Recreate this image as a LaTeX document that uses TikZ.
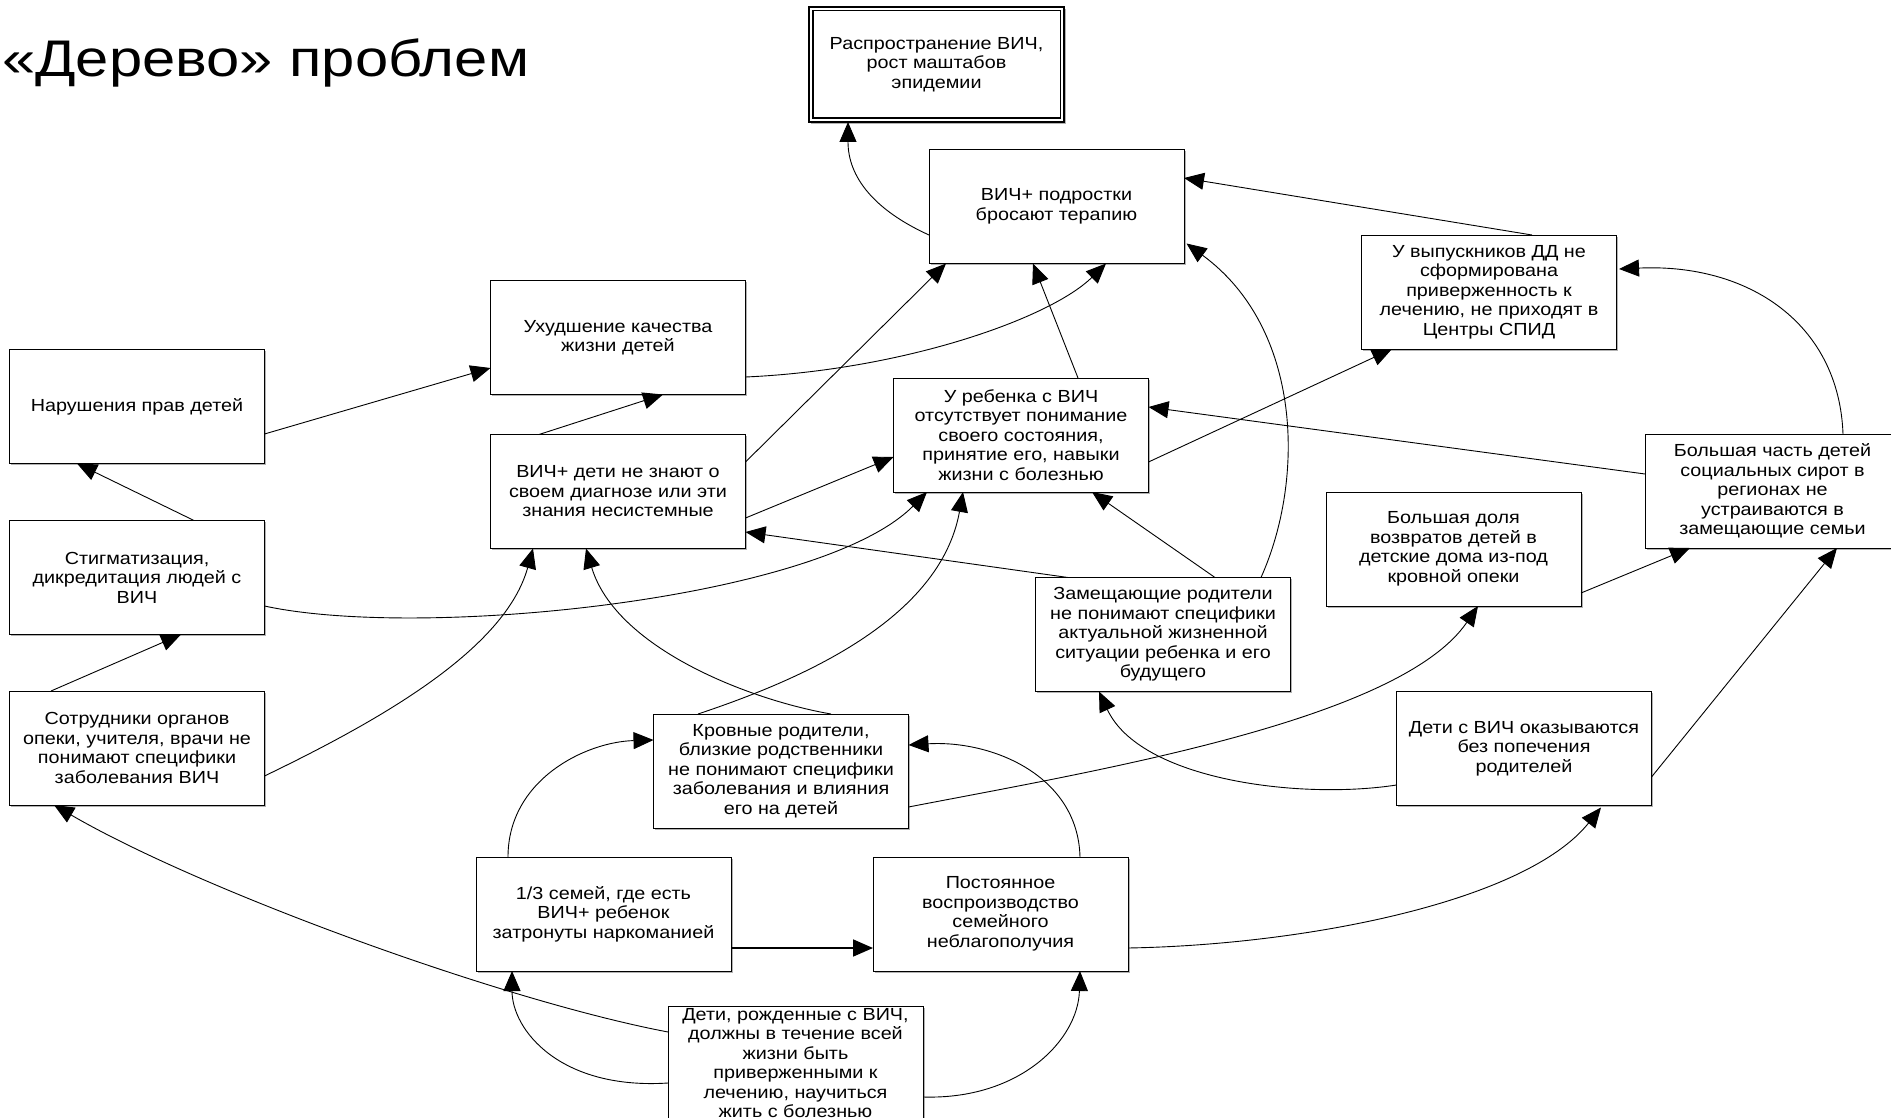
\documentclass[tikz,border=0pt]{standalone}
\usepackage{fontspec}
\setmainfont{Liberation Sans}[FakeStretch=1.13]
\newfontfamily\titlefont{Liberation Sans}[FakeStretch=1.16]
\usetikzlibrary{calc,arrows.meta,shadows}
\begin{document}
\begin{tikzpicture}[x=1pt,y=-1pt,
  basebox/.style={draw=black, fill=white, align=center, inner sep=2pt,
    font=\fontsize{17.5}{19.5}\selectfont},
  box/.style={basebox, line width=0.9pt, minimum width=255pt, minimum height=114pt,
    drop shadow={shadow xshift=1.6pt, shadow yshift=-1.6pt, fill=black!30, opacity=1}},
  topbox/.style={basebox, line width=1.2pt, minimum width=255pt, minimum height=115pt,
    drop shadow={shadow xshift=1.6pt, shadow yshift=-1.6pt, fill=black!30, opacity=1}},
  innerframe/.style={draw=black, line width=1.2pt},
  arr/.style={draw=black, line width=0.9pt, -{Triangle[length=20pt,width=17pt]}},
  thickarr/.style={arr, line width=1.8pt}]

\fill[white] (0,0) rectangle (1891,1118);
\useasboundingbox (0,0) rectangle (1891,1118);
\clip (0,0) rectangle (1891,1118);

\node[anchor=base west, inner sep=0pt, font=\titlefont\fontsize{51.5}{55}\selectfont] (title) at (2,77) {«Дерево» проблем};

\node[topbox] (b1) at (936.5,64.5) {Распространение ВИЧ,\\рост маштабов\\эпидемии};
\draw[innerframe] ($(b1.north west)+(4.5,4.5)$) rectangle ($(b1.south east)+(-4.5,-4.5)$);
\node[box] (b2) at (1056.5,206.5) {ВИЧ+ подростки\\бросают терапию};
\node[box] (b3) at (1489,292) {У выпускников ДД не\\сформирована\\приверженность к\\лечению, не приходят в\\Центры СПИД};
\node[box] (b4) at (618,337.5) {Ухудшение качества\\жизни детей};
\node[box] (b5) at (137,406.5) {Нарушения прав детей};
\node[box] (b6) at (1021,435) {У ребенка с ВИЧ\\отсутствует понимание\\своего состояния,\\принятие его, навыки\\жизни с болезнью};
\node[box] (b7) at (618,491.5) {ВИЧ+ дети не знают о\\своем диагнозе или эти\\знания несистемные};
\node[box] (b8) at (137,577.5) {Стигматизация,\\дикредитация людей с\\ВИЧ};
\node[box] (b9) at (1772.5,491) {Большая часть детей\\социальных сирот в\\регионах не\\устраиваются в\\замещающие семьи};
\node[box] (b10) at (1453.5,549) {Большая доля\\возвратов детей в\\детские дома из-под\\кровной опеки};
\node[box] (b11) at (1163,634.5) {Замещающие родители\\не понимают специфики\\актуальной жизненной\\ситуации ребенка и его\\будущего};
\node[box] (b12) at (137,748) {Сотрудники органов\\опеки, учителя, врачи не\\понимают специфики\\заболевания ВИЧ};
\node[box] (b13) at (781,771) {Кровные родители,\\близкие родственники\\не понимают специфики\\заболевания и влияния\\его на детей};
\node[box] (b14) at (1524,748.5) {Дети с ВИЧ оказываются\\без попечения\\родителей};
\node[box] (b15) at (603.5,914) {1/3 семей, где есть\\ВИЧ+ ребенок\\затронуты наркоманией};
\node[box] (b16) at (1000.5,914) {Постоянное\\воспроизводство\\семейного\\неблагополучия};
\node[box] (b17) at (795.5,1063) {Дети, рожденные с ВИЧ,\\должны в течение всей\\жизни быть\\приверженными к\\лечению, научиться\\жить с болезнью};

% connectors
\draw[arr] ($(b2)+(-127.5,28.5)$) .. controls +(-55,-25) and +(0,55) .. ($(b1)+(-88.5,57.5)$);
\draw[arr] ($(b3)+(43,-57)$) -- ($(b2)+(127.5,-28.5)$);
\draw[arr] ($(b9)+(70.5,-57)$) .. controls +(-4,-110) and +(130,-6) .. ($(b3)+(130,-23)$);
\draw[arr] ($(b4)+(127.5,39.5)$) .. controls +(158,-7) and +(-56,55) .. ($(b2)+(49.5,57)$);
\draw[arr] ($(b7)+(127.5,-29.5)$) -- ($(b2)+(-110.5,57)$);
\draw[arr] ($(b6)+(57,-57)$) -- ($(b2)+(-23.5,57)$);
\draw[arr] ($(b11)+(98,-57)$) .. controls +(44,-98) and +(116,85) .. ($(b2)+(130,37)$);
\draw[arr] ($(b6)+(127.5,27)$) -- ($(b3)+(-97,57)$);
\draw[arr] ($(b9)+(-127.5,-17)$) -- ($(b6)+(127.5,-28)$);
\draw[arr] ($(b7)+(127.5,26.5)$) -- ($(b6)+(-127.5,22)$);
\draw[arr] ($(b8)+(127.5,28.5)$) .. controls +(156,34) and +(-107,108) .. ($(b6)+(-94,57)$);
\draw[arr] ($(b11)+(-95,-57)$) -- ($(b7)+(127.5,40.5)$);
\draw[arr] ($(b11)+(52,-57)$) -- ($(b6)+(71,57)$);
\draw[arr] ($(b7)+(-79,-57)$) -- ($(b4)+(45,57)$);
\draw[arr] ($(b5)+(127.5,27.5)$) -- ($(b4)+(-127.5,30.5)$);
\draw[arr] ($(b8)+(57,-57)$) -- ($(b5)+(-60,57)$);
\draw[arr] ($(b12)+(-86,-57)$) -- ($(b8)+(44,57)$);
\draw[arr] ($(b12)+(127.5,28)$) .. controls +(116,-56) and +(-28,101) .. ($(b7)+(-85,57)$);
\draw[arr] ($(b13)+(50,-57)$) .. controls +(-81,-14) and +(30,100) .. ($(b7)+(-32,57)$);
\draw[arr] ($(b13)+(-83,-57)$) .. controls +(102,-34) and +(-23,128) .. ($(b6)+(-58,57)$);
\draw[arr] ($(b13)+(127.5,36)$) .. controls +(192,-37) and +(-78,114) .. ($(b10)+(24.5,57)$);
\draw[arr] ($(b14)+(-127.5,36.5)$) .. controls +(-96.5,15) and +(41,88.5) .. ($(b11)+(-64,57)$);
\draw[arr] ($(b14)+(127.5,28.5)$) -- ($(b9)+(64.5,57)$);
\draw[arr] ($(b10)+(127.5,44)$) -- ($(b9)+(-82.5,57)$);
\draw[arr] ($(b15)+(-95.5,-57)$) .. controls +(0,-77) and +(-68.5,2) .. ($(b13)+(-127.5,-31)$);
\draw[arr] ($(b16)+(79.5,-57)$) .. controls +(-2,-82) and +(82.5,-5) .. ($(b13)+(127.5,-26)$);
\draw[thickarr] ($(b15)+(127.5,34)$) -- ($(b16)+(-127.5,34)$);
\draw[arr] ($(b16)+(127.5,34)$) .. controls +(175,-3) and +(-76,95) .. ($(b14)+(77,59)$);
\draw[arr] ($(b17)+(-127.5,-31)$) .. controls +(-168,-32) and +(146,85) .. ($(b12)+(-83,57)$);
\draw[arr] ($(b17)+(-127.5,20)$) .. controls +(-108,7) and +(0,59) .. ($(b15)+(-91.5,57)$);
\draw[arr] ($(b17)+(127.5,34)$) .. controls +(97,3) and +(-2,69) .. ($(b16)+(79.5,57)$);
\end{tikzpicture}
\end{document}
